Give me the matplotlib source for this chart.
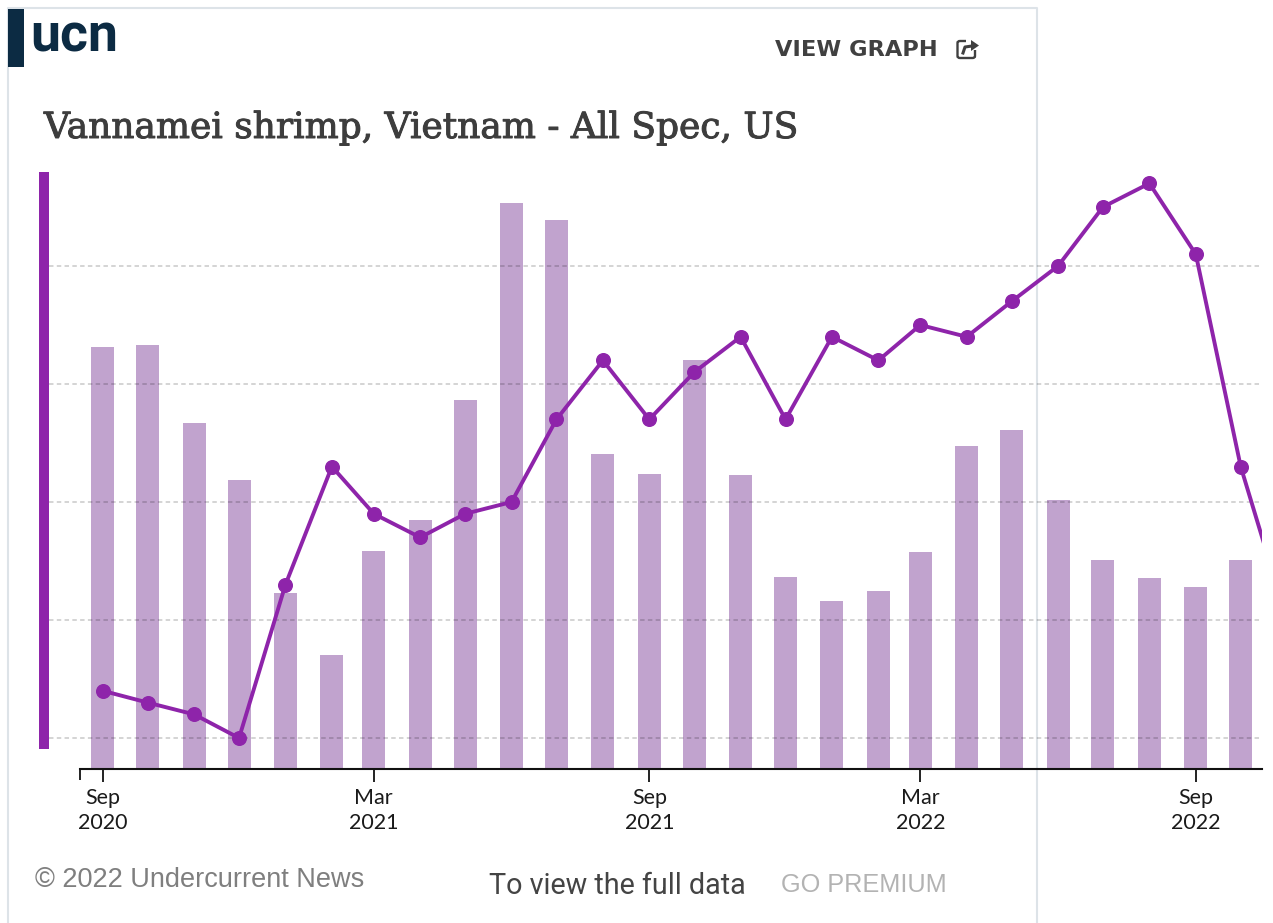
import matplotlib
matplotlib.use("Agg")
import matplotlib.dates as mdates
import matplotlib.patheffects as pe
import matplotlib.pyplot as plt
import pandas as pd
from matplotlib.lines import Line2D
from matplotlib.patches import FancyBboxPatch, Polygon, Rectangle

W, H = 1273, 923
PURPLE = "#8e24aa"
BAR_COLOR = "#c1a3ce"
NAVY = "#0c2b43"

months = pd.date_range("2020-09-01", "2022-11-01", freq="MS")
bar_values = [3.58, 3.59, 2.93, 2.45, 1.49, 0.97, 1.85, 2.11, 3.13, 4.80, 4.65, 2.67, 2.50,
              3.47, 2.49, 1.63, 1.42, 1.51, 1.84, 2.74, 2.87, 2.28, 1.77, 1.62, 1.54, 1.77]
line_values = [0.4, 0.3, 0.2, 0.0, 1.3, 2.3, 1.9, 1.7, 1.9, 2.0, 2.7, 3.2, 2.7, 3.1,
               3.4, 2.7, 3.4, 3.2, 3.5, 3.4, 3.7, 4.0, 4.5, 4.7, 4.1, 2.3, 1.0]
tick_dates = pd.to_datetime(["2020-09-01", "2021-03-01", "2021-09-01", "2022-03-01", "2022-09-01"])
tick_labels = ["Sep\n2020", "Mar\n2021", "Sep\n2021", "Mar\n2022", "Sep\n2022"]
grid_levels = [0, 1, 2, 3, 4]


def fx(px):
    return px / W


def fy(py):
    return 1 - py / H


def add_text(fig, px, py, s, **kw):
    kw.setdefault("va", "center")
    return fig.text(fx(px), fy(py), s, **kw)


fig = plt.figure(figsize=(W / 100, H / 100), dpi=100, facecolor="white")

# card outline and logo
fig.add_artist(Line2D([fx(8), fx(8), fx(1036.5), fx(1036.5)], [0, fy(8), fy(8), 0],
                      color="#dde3e8", lw=1.5, zorder=-1))
fig.add_artist(Rectangle((fx(8), fy(67)), 16 / W, 58 / H, color=NAVY, lw=0))
add_text(fig, 30.5, 52, "ucn", va="baseline", family="Roboto", weight="bold", fontsize=38.5, color=NAVY)

add_text(fig, 775, 49.5, "VIEW GRAPH", family="DejaVu Sans", weight="bold", fontsize=16.2, color="#404040")
fig.add_artist(FancyBboxPatch((fx(957.5), fy(58)), 17.5 / W, 17 / H, boxstyle="round,pad=0,rounding_size=0.002",
                              fc="none", ec="#404040", lw=1.7))
fig.add_artist(Rectangle((fx(966), fy(50)), 12 / W, 12 / H, color="white", lw=0))
fig.add_artist(Line2D([fx(963), fx(965), fx(972)], [fy(53), fy(47), fy(46)], color="#404040", lw=2.2))
fig.add_artist(Polygon([(fx(971), fy(40)), (fx(979), fy(45.5)), (fx(971), fy(51))], color="#404040", lw=0))

title = add_text(fig, 44, 128, "Vannamei shrimp, Vietnam - All Spec, US", family="DejaVu Serif",
                 fontsize=25.9, color="#3d3d3d")
title.set_path_effects([pe.withStroke(linewidth=0.7, foreground="#3d3d3d")])

ax = fig.add_axes([fx(49), fy(769), (1262 - 49) / W, (769 - 172) / H])
ax.patch.set_alpha(0)
fig.add_artist(Rectangle((fx(39), fy(749)), 10 / W, 577 / H, color=PURPLE, lw=0))

start = mdates.date2num(months[0])
px_per_day = 1093 / 730
ax.set_xlim(start - 53.8 / px_per_day, start + 1159.2 / px_per_day)
ax.set_ylim(0, 597 / 118)

# price line has its own scale, grid lines follow it
ax2 = ax.twinx()
ax2.set_ylim(-31 / 118, 566 / 118)
ax2.patch.set_alpha(0)

ax.bar(months[:len(bar_values)], bar_values, width=23 / px_per_day, color=BAR_COLOR, lw=0, zorder=2)
for lvl in grid_levels:
    ax.axhline(lvl + 31 / 118, color="black", alpha=0.17, lw=1.4, ls=(0, (2.3, 1.7)), zorder=3)
ax2.plot(months, line_values, color=PURPLE, lw=2.8, marker="o", ms=9.8, zorder=3)

for side in ["top", "left", "right"]:
    ax.spines[side].set_visible(False)
    ax2.spines[side].set_visible(False)
ax2.spines["bottom"].set_visible(False)
ax.spines["bottom"].set_bounds(start - 23 / px_per_day, start + 1159.2 / px_per_day)
ax.spines["bottom"].set_linewidth(1.5)
ax.spines["bottom"].set_color("#111111")
ax.set_yticks([])
ax2.set_yticks([])

ax.set_xticks(mdates.date2num(tick_dates))
ax.set_xticklabels(tick_labels, family="Lato", fontsize=15.5, color="#1a1a1a", linespacing=1.3)
ax.tick_params(axis="x", length=9.5, width=1.3, color="#111111", pad=4)
ax.set_xticks([start - 23 / px_per_day], minor=True)
ax.tick_params(axis="x", which="minor", length=8, width=1.3, color="#111111")

add_text(fig, 35, 880, "\u00a9 2022 Undercurrent News", family="Liberation Sans", fontsize=19.5, color="#7f7f7f")
add_text(fig, 489, 886, "To view the full data", family="Roboto", fontsize=20.7, color="#444444")
add_text(fig, 781, 885, "GO PREMIUM", family="Liberation Sans", fontsize=18.2, color="#b3b3b3")

fig.savefig("out.png", dpi=100)
